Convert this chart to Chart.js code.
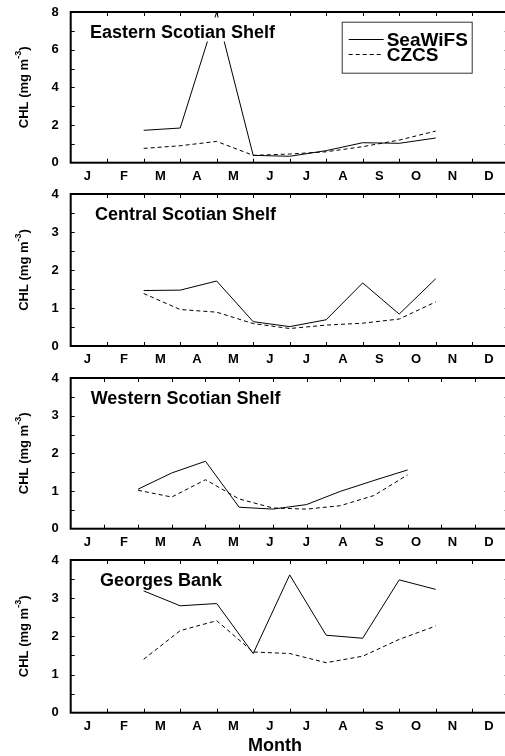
<!DOCTYPE html>
<html><head><meta charset="utf-8">
<script src="https://cdn.jsdelivr.net/npm/chart.js@4"></script>
<style>
html,body{margin:0;padding:0;background:#fff;overflow:hidden;width:505px;height:756px;}
.p{position:absolute;left:0;}
canvas{display:block;}
</style></head><body>
<div class="p" style="top:0px"><canvas id="c0" width="512" height="183"></canvas></div>
<div class="p" style="top:182px"><canvas id="c1" width="512" height="184"></canvas></div>
<div class="p" style="top:366px"><canvas id="c2" width="512" height="183"></canvas></div>
<div class="p" style="top:548px"><canvas id="c3" width="512" height="208"></canvas></div>
<script>
// ---- data ----
const months = ['J','F','M','A','M','J','J','A','S','O','N','D'];
const pointIndex = [2,3,4,5,6,7,8,9,10];
const regions = ['Eastern Scotian Shelf','Central Scotian Shelf','Western Scotian Shelf','Georges Bank'];
const seriesNames = ['SeaWiFS','CZCS'];
const seawifsEastern = [1.72,1.84,8.0,0.39,0.34,0.64,1.06,1.03,1.31];
const czcsEastern    = [0.76,0.90,1.13,0.39,0.46,0.58,0.85,1.20,1.68];
const seawifsCentral = [1.46,1.47,1.71,0.64,0.51,0.69,1.66,0.84,1.77];
const czcsCentral    = [1.38,0.96,0.89,0.59,0.46,0.55,0.60,0.71,1.16];
const seawifsWestern = [1.05,1.48,1.79,0.57,0.52,0.64,0.99,1.28,1.56];
const czcsWestern    = [1.02,0.84,1.30,0.79,0.55,0.52,0.61,0.88,1.43];
const seawifsGeorges = [3.19,2.80,2.86,1.55,3.61,2.03,1.95,3.48,3.23];
const czcsGeorges    = [1.40,2.15,2.41,1.59,1.55,1.31,1.48,1.92,2.27];
const yMax = [8,4,4,4];
const yMajor = [2,1,1,1];
const yMinor = [1,0.5,0.5,0.5];
const xSpan = [12,12,13,12];
const yTitle = ['CHL (mg m','-3',')'];
const xTitle = 'Month';

// ---- layout / style (not data) ----
const FONT = '"Liberation Sans", Arial, Helvetica, sans-serif';
const layout = [
  {plotH:150.7, titleDX:19.3},
  {plotH:152,   titleDX:24.3},
  {plotH:150.7, titleDX:20},
  {plotH:152.7, titleDX:29.3}
];
const PLOT_LEFT = 70.7, PLOT_RIGHT = 508.7, PLOT_TOP = 12;

Chart.defaults.font.family = FONT;
Chart.defaults.font.weight = 'bold';
Chart.defaults.color = '#000';

const seawifs = [seawifsEastern, seawifsCentral, seawifsWestern, seawifsGeorges];
const czcs = [czcsEastern, czcsCentral, czcsWestern, czcsGeorges];

function toPoints(vals){ return vals.map((v,i)=>({x:pointIndex[i], y:v})); }

function decoPlugin(p){
  return {
    id:'deco'+p,
    afterDatasetsDraw(chart){
      const ctx = chart.ctx, a = chart.chartArea;
      const xd = chart.scales.xd, y = chart.scales.y;
      ctx.save();
      ctx.strokeStyle = '#000';
      ctx.lineWidth = 1;
      ctx.beginPath();
      for (let i=1;i<xSpan[p];i++){
        const px = Math.round(xd.getPixelForValue(i))+0.5;
        ctx.moveTo(px,a.bottom); ctx.lineTo(px,a.bottom-4);
        ctx.moveTo(px,a.top); ctx.lineTo(px,a.top+4);
      }
      for (let v=yMinor[p]; v<yMax[p]-1e-9; v+=yMinor[p]){
        const py = Math.round(y.getPixelForValue(v))+0.5;
        ctx.moveTo(a.left,py); ctx.lineTo(a.left+4,py);
        ctx.moveTo(a.right,py); ctx.lineTo(a.right-4,py);
      }
      ctx.stroke();
      ctx.lineWidth = 2;
      ctx.strokeRect(a.left, a.top, a.right-a.left, a.bottom-a.top);

      // panel title
      ctx.font = 'bold 18px '+FONT;
      ctx.textBaseline = 'alphabetic';
      ctx.textAlign = 'left';
      const tx = a.left + layout[p].titleDX, ty = a.top + 25.5;
      const tw = ctx.measureText(regions[p]).width;
      ctx.fillStyle = '#fff';
      ctx.fillRect(tx-2, ty-20, tw+4, 24);
      ctx.fillStyle = '#000';
      ctx.fillText(regions[p], tx, ty);

      // legend (first panel)
      if (p===0){
        const lx = a.left + 271, ly = a.top + 9.7;
        ctx.fillStyle = '#fff';
        ctx.fillRect(lx, ly, 130, 51);
        ctx.lineWidth = 1;
        ctx.strokeStyle = '#333';
        ctx.strokeRect(lx+0.5, ly+0.5, 130, 51);
        ctx.strokeStyle = '#000';
        const rows = [{dash:[], dy:17}, {dash:[4,3], dy:32.6}];
        ctx.font = 'bold 19px '+FONT;
        ctx.textBaseline = 'middle';
        ctx.fillStyle = '#000';
        rows.forEach((r,k)=>{
          const yy = Math.round(ly + r.dy)+0.5;
          ctx.setLineDash(r.dash);
          ctx.beginPath(); ctx.moveTo(lx+7, yy); ctx.lineTo(lx+42, yy); ctx.stroke();
          ctx.setLineDash([]);
          ctx.fillText(seriesNames[k], lx+45, yy+1);
        });
      }

      // y axis title with superscript
      ctx.save();
      ctx.translate(24.5, (a.top+a.bottom)/2);
      ctx.rotate(-Math.PI/2);
      const fonts = ['bold 13px '+FONT, 'bold 9px '+FONT, 'bold 13px '+FONT];
      const shifts = [0,-6,0];
      let total = 0; const ws = [];
      yTitle.forEach((s,i)=>{ ctx.font = fonts[i]; const w = ctx.measureText(s).width; ws.push(w); total += w; });
      let cx = -total/2;
      ctx.textAlign = 'left'; ctx.textBaseline = 'middle'; ctx.fillStyle = '#000';
      yTitle.forEach((s,i)=>{ ctx.font = fonts[i]; ctx.fillText(s, cx, shifts[i]); cx += ws[i]; });
      ctx.restore();

      // x axis title (last panel)
      if (p===3){
        ctx.font = 'bold 18px '+FONT;
        ctx.textAlign = 'center';
        ctx.textBaseline = 'middle';
        ctx.fillStyle = '#000';
        ctx.fillText(xTitle, a.left + 204.3, a.bottom + 33);
      }
      ctx.restore();
    }
  };
}

for (let p=0;p<4;p++){
  const canvas = document.getElementById('c'+p);
  const H = canvas.height;
  new Chart(canvas, {
    type:'line',
    data:{
      datasets:[
        {label:seriesNames[0], data:toPoints(seawifs[p]), xAxisID:'xd', yAxisID:'y',
         borderColor:'#000', borderWidth:1, pointRadius:0, tension:0, fill:false},
        {label:seriesNames[1], data:toPoints(czcs[p]), xAxisID:'xd', yAxisID:'y',
         borderColor:'#000', borderWidth:1, borderDash:[4,3], pointRadius:0, tension:0, fill:false}
      ]
    },
    options:{
      responsive:false, animation:false, events:[],
      layout:{padding:{top:PLOT_TOP, left:0, right:canvas.width-PLOT_RIGHT, bottom:0}},
      plugins:{legend:{display:false}, tooltip:{enabled:false}},
      scales:{
        x:{type:'linear', position:'bottom', min:0, max:12,
           grid:{display:false, drawTicks:false}, border:{display:false},
           afterBuildTicks:(s)=>{ s.ticks = months.map((m,i)=>({value:i+0.5})); },
           afterFit:(s)=>{ s.height = H - PLOT_TOP - layout[p].plotH; s.paddingLeft = 0; s.paddingRight = 0; },
           ticks:{autoSkip:false, maxRotation:0, padding:6, labelOffset:-1.5, font:{size:13, weight:'bold'},
                  callback:(v,i)=>months[i]}},
        xd:{type:'linear', display:false, min:0, max:xSpan[p]},
        y:{type:'linear', position:'left', min:0, max:yMax[p],
           grid:{display:false, drawTicks:false}, border:{display:false},
           afterFit:(s)=>{ s.width = PLOT_LEFT; s.paddingTop = 0; s.paddingBottom = 0; },
           ticks:{stepSize:yMajor[p], padding:12, font:{size:13, weight:'bold'}}}
      }
    },
    plugins:[decoPlugin(p)]
  });
}
</script>
</body></html>
